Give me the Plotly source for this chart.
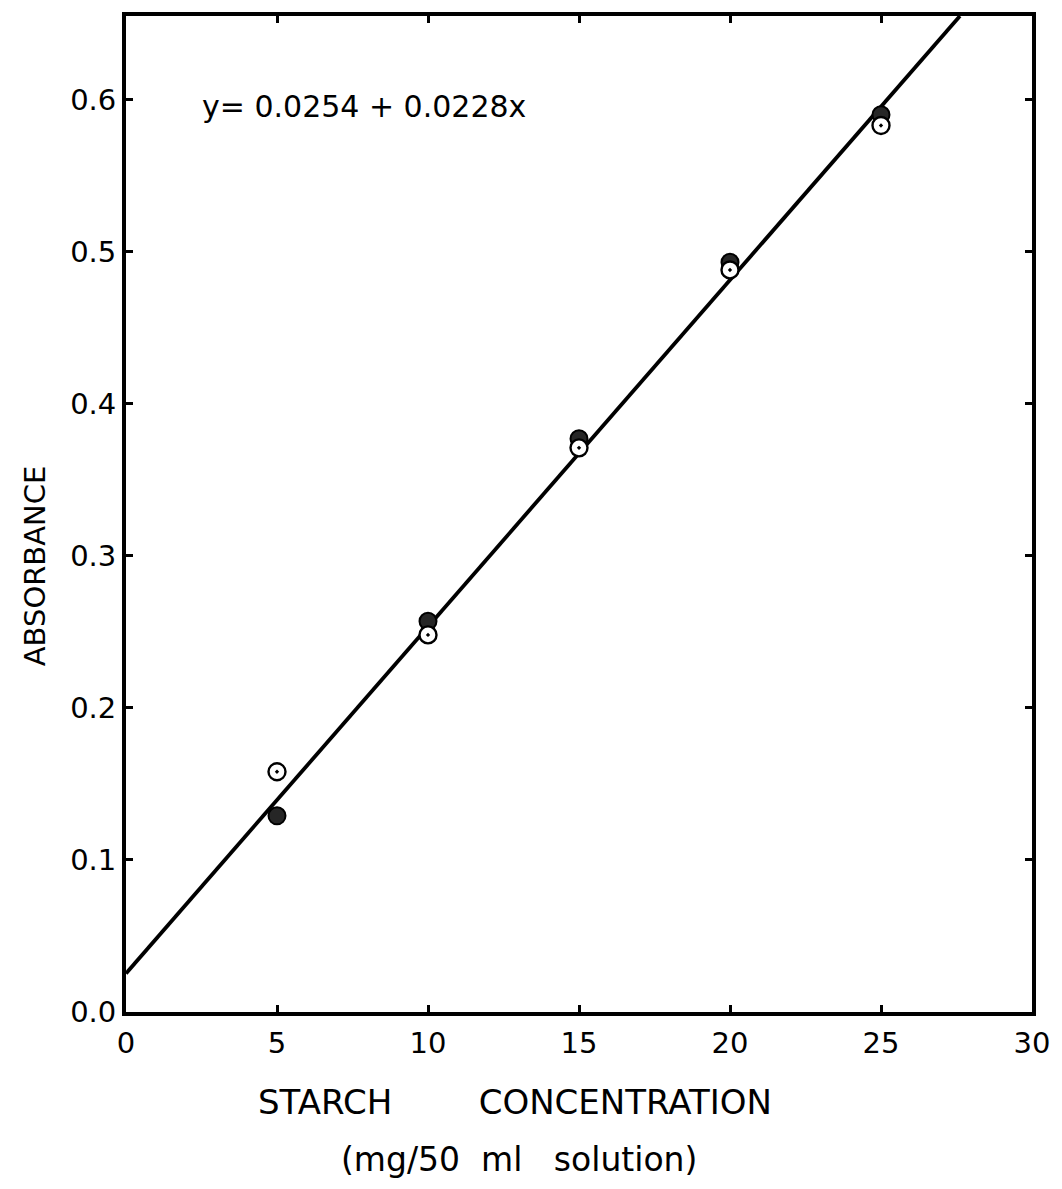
import plotly.graph_objects as go

# Starch calibration data: absorbance readings at each concentration
concentration = [5, 10, 15, 20, 25]
absorbance_open = [0.158, 0.248, 0.371, 0.488, 0.583]
absorbance_filled = [0.129, 0.257, 0.377, 0.493, 0.590]

# Least-squares fit reported on the chart
intercept = 0.0254
slope = 0.0228
equation_label = "y= 0.0254 + 0.0228x"

x_ticks = [0, 5, 10, 15, 20, 25, 30]
y_ticks = [0.0, 0.1, 0.2, 0.3, 0.4, 0.5, 0.6]
x_range = [0, 30]
y_range = [0, 0.655]

FONT = "DejaVu Sans"

# Regression line runs from the y-axis up to the top of the frame
line_x = [0, (y_range[1] - intercept) / slope]
line_y = [intercept + slope * v for v in line_x]

fig = go.Figure()

fig.add_trace(go.Scatter(
    x=line_x, y=line_y, mode="lines",
    line=dict(color="black", width=3.8),
    showlegend=False, hoverinfo="skip",
))

fig.add_trace(go.Scatter(
    x=concentration, y=absorbance_filled, mode="markers",
    marker=dict(symbol="circle", size=17, color="#262626",
                line=dict(color="black", width=2)),
    showlegend=False,
))

fig.add_trace(go.Scatter(
    x=concentration, y=absorbance_open, mode="markers",
    marker=dict(symbol="circle-dot", size=17, color="white",
                line=dict(color="black", width=2.4)),
    showlegend=False,
))

axis_common = dict(
    showline=True, linecolor="black", linewidth=3.8, mirror="ticks",
    ticks="inside", ticklen=7, tickwidth=2.5, tickcolor="black",
    showgrid=False, zeroline=False,
    tickfont=dict(family=FONT, size=29, color="black"),
)

fig.update_xaxes(range=x_range, tickvals=x_ticks,
                 ticktext=[str(v) for v in x_ticks],
                 ticklabelstandoff=2, **axis_common)
fig.update_yaxes(range=y_range, tickvals=y_ticks,
                 ticktext=[f"{v:.1f}" for v in y_ticks],
                 ticklabelstandoff=0, **axis_common)

# Page geometry used to place the free text in pixel terms
W, H = 1062, 1189
pl, pr, pt, pb = 126, 22, 15, 177
pw, ph = W - pl - pr, H - pt - pb


def px_to_paper(px, py):
    return (px - pl) / pw, (H - pb - py) / ph


eq_x, eq_y = px_to_paper(201, 106)
fig.add_annotation(
    x=eq_x, y=eq_y, xref="paper", yref="paper", text=equation_label,
    showarrow=False, xanchor="left", yanchor="middle",
    font=dict(family=FONT, size=30, color="black"),
)

ab_x, ab_y = px_to_paper(35, 565)
fig.add_annotation(
    x=ab_x, y=ab_y, xref="paper", yref="paper", text="ABSORBANCE",
    showarrow=False, textangle=-90, xanchor="center", yanchor="middle",
    font=dict(family=FONT, size=29, color="black"),
)

t1x, t1y = px_to_paper(518, 1102)
fig.add_annotation(
    x=t1x, y=t1y, xref="paper", yref="paper",
    text="STARCH&nbsp;&nbsp;&nbsp;&nbsp;&nbsp;&nbsp;&nbsp;&nbsp;CONCENTRATION",
    showarrow=False, xanchor="center", yanchor="middle",
    font=dict(family=FONT, size=34, color="black"),
)

t2x, t2y = px_to_paper(522, 1160)
fig.add_annotation(
    x=t2x, y=t2y, xref="paper", yref="paper",
    text="(mg/50&nbsp;&nbsp;ml&nbsp;&nbsp;&nbsp;solution)",
    showarrow=False, xanchor="center", yanchor="middle",
    font=dict(family=FONT, size=33, color="black"),
)

fig.update_layout(
    width=W, height=H,
    margin=dict(l=pl, r=pr, t=pt, b=pb),
    paper_bgcolor="white", plot_bgcolor="white",
)

fig.write_html("out.html")
